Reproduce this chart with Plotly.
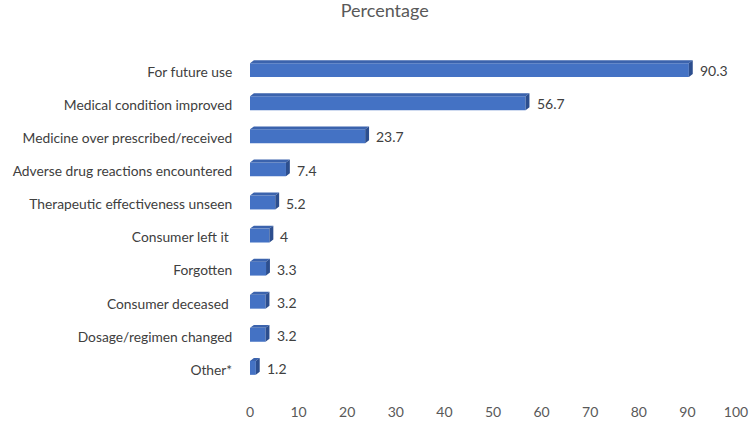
import plotly.graph_objects as go

categories = [
    "For future use",
    "Medical condition improved",
    "Medicine over prescribed/received",
    "Adverse drug reactions encountered",
    "Therapeutic effectiveness unseen",
    "Consumer left it ",
    "Forgotten",
    "Consumer deceased ",
    "Dosage/regimen changed",
    "Other*",
]
values = [90.3, 56.7, 23.7, 7.4, 5.2, 4, 3.3, 3.2, 3.2, 1.2]
x_ticks = list(range(0, 101, 10))

FRONT = "#4472C4"
TOP = "#3B63AD"
SIDE = "#2C4E8E"
TXT = "#595959"
FONT = "Lato, Carlito, Calibri, 'Noto Sans', sans-serif"

pos = list(range(len(categories)))
W = 0.42
OFF = -0.27
DX = 0.8   # depth in x data units (~4px)
DY = 0.09  # depth in y data units (~3px)

fig = go.Figure()
fig.add_trace(go.Bar(
    orientation="h", x=values, y=pos, width=W, offset=OFF,
    marker=dict(color=FRONT, line=dict(width=0)), hoverinfo="skip",
))

tx, ty, sx, sy = [], [], [], []
for v, p in zip(values, pos):
    y0 = p + OFF
    y1 = p + OFF + W
    tx += [0, v, v + DX, DX, 0, None]
    ty += [y0, y0, y0 - DY, y0 - DY, y0, None]
    sx += [v, v + DX, v + DX, v, v, None]
    sy += [y0, y0 - DY, y1 - DY, y1, y0, None]

fig.add_trace(go.Scatter(x=tx, y=ty, mode="lines", fill="toself",
                         fillcolor=TOP, line=dict(width=0, color=TOP),
                         hoverinfo="skip"))
fig.add_trace(go.Scatter(x=sx, y=sy, mode="lines", fill="toself",
                         fillcolor=SIDE, line=dict(width=0, color=SIDE),
                         hoverinfo="skip"))

for v, p in zip(values, pos):
    fig.add_annotation(x=v, y=p - 0.04, text=f"{v:g}", showarrow=False,
                       xanchor="left", xshift=9,
                       font=dict(family=FONT, size=14, color="#404040"))

fig.update_layout(
    width=750, height=423,
    margin=dict(l=250, r=14, t=45, b=25, autoexpand=False),
    paper_bgcolor="white", plot_bgcolor="white",
    showlegend=False,
    hovermode=False,
    title=dict(text="Percentage", x=0.513, xanchor="center",
               y=0.99, yanchor="top",
               font=dict(family=FONT, size=18, color=TXT)),
    font=dict(family=FONT, size=14, color=TXT),
)
fig.update_xaxes(range=[0, 100], tickvals=x_ticks, showgrid=False,
                 zeroline=False, showline=False, automargin=False,
                 ticks="outside", ticklen=1, tickcolor="rgba(0,0,0,0)",
                 tickfont=dict(family=FONT, size=14, color=TXT))
fig.update_yaxes(range=[9.85, -0.82], tickvals=pos, ticktext=categories,
                 showgrid=False, zeroline=False, showline=False, automargin=False,
                 ticks="outside", ticklen=14, tickcolor="rgba(0,0,0,0)",
                 tickfont=dict(family=FONT, size=13.8, color="#404040"))

fig.write_html("out.html",
               config={"displayModeBar": False, "staticPlot": True},
               post_script="document.body.style.margin='0';"
                           "document.body.style.overflow='hidden';")
